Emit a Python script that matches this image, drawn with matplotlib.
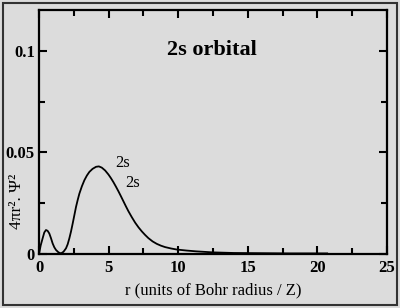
import matplotlib
matplotlib.use('Agg')
import matplotlib.pyplot as plt
from matplotlib.patches import Rectangle
from matplotlib.ticker import MultipleLocator, FixedLocator

plt.rcParams['font.family'] = ['Liberation Serif', 'DejaVu Serif']

# radial distribution
r = [0, 0.12, 0.26, 0.38, 0.5, 0.62, 0.74, 0.86, 0.98, 1.1, 1.22, 1.4, 1.58,
     1.76, 1.94, 2.06, 2.18, 2.3, 2.42, 2.54, 2.66, 2.78, 2.9, 3.08, 3.26,
     3.44, 3.62, 3.85, 4.1, 4.3, 4.51, 4.75, 4.99, 5.17, 5.35, 5.53, 5.71,
     5.88, 6.06, 6.24, 6.42, 6.66, 6.91, 7.15, 7.39, 7.62, 7.86, 8.16, 8.46,
     8.76, 9.06, 9.5, 9.9, 10.6, 11.3, 12.5, 14.0, 16.0, 18.0, 20.7]
p = [0, 0.0042, 0.0077, 0.0106, 0.0118, 0.0114, 0.0101, 0.0078, 0.0052, 0.0033,
     0.002, 0.0008, 0.0003, 0.0011, 0.0028, 0.0048, 0.0077, 0.0111, 0.015, 0.0191,
     0.0232, 0.0266, 0.0297, 0.0333, 0.0363, 0.0386, 0.0404, 0.0419, 0.0429,
     0.0431, 0.0425, 0.0411, 0.0391, 0.0373, 0.0353, 0.0331, 0.0308, 0.0285,
     0.0260, 0.0235, 0.0211, 0.0182, 0.0154, 0.0131, 0.0111, 0.0094, 0.0078,
     0.0062, 0.0050, 0.0041, 0.0034, 0.0027, 0.0022, 0.0017, 0.0013, 0.0008,
     0.0005, 0.0004, 0.0003, 0.0003]

yticks = [0, 0.05, 0.1]
ytick_labels = ['0', '0.05', '0.1']
xticks = [0, 5, 10, 15, 20, 25]

bg = '#dcdcdc'
fig = plt.figure(figsize=(4, 3.08), dpi=100, facecolor=bg)
ax = fig.add_axes([0.0975, 0.1753, 0.87, 0.792])
ax.set_facecolor(bg)

ax.plot(r, p, color='black', lw=1.3)

ax.set_xlim(0, 25)
ax.set_ylim(0, 0.12)
ax.set_xticks(xticks)
ax.set_yticks(yticks)
ax.set_yticklabels(ytick_labels)
ax.xaxis.set_minor_locator(MultipleLocator(2.5))
ax.yaxis.set_minor_locator(FixedLocator([0.025, 0.075]))
ax.tick_params(which='both', direction='in', top=True, right=True, width=1.5, labelsize=12)
ax.tick_params(which='major', length=6)
ax.tick_params(which='minor', length=4)
ax.tick_params(axis='y', pad=3)
ax.tick_params(axis='x', pad=4)
for lab in ax.get_xticklabels() + ax.get_yticklabels():
    lab.set_fontweight('bold')
for s in ax.spines.values():
    s.set_linewidth(1.6)

ax.set_xlabel('r (units of Bohr radius / Z)', fontsize=12, labelpad=5)
ax.set_ylabel('4πr². Ψ²', fontsize=12.5)
ax.yaxis.set_label_coords(-0.04, 0.217)

ax.text(12.45, 0.1005, '2s orbital', fontsize=16, fontweight='bold', ha='center', va='center')
ax.text(6.0, 0.0449, '2s', fontsize=12, ha='center', va='center')
ax.text(6.7, 0.0348, '2s', fontsize=12, ha='center', va='center')

fig.patches.append(Rectangle((0.008, 0.01), 0.984, 0.98, transform=fig.transFigure,
                             fill=False, edgecolor='#333333', lw=1.5))

fig.savefig('out.png', dpi=100, facecolor=bg)
